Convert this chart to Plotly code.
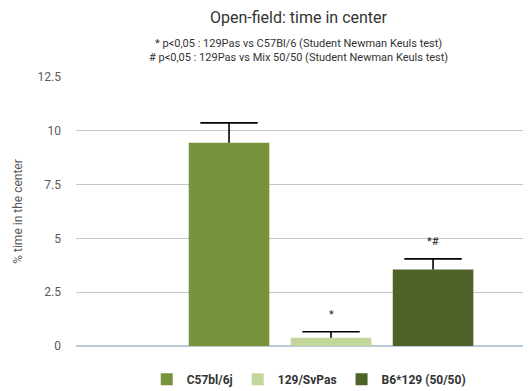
import plotly.graph_objects as go

categories = ["C57bl/6j", "129/SvPas", "B6*129 (50/50)"]
values = [9.45, 0.38, 3.55]
errors = [0.92, 0.28, 0.50]
signif = ["", "*", "*#"]
colors = ["#77933c", "#c3d69b", "#4f6228"]
y_ticks = [0, 2.5, 5, 7.5, 10, 12.5]

fig = go.Figure()
for c, v, e, col in zip(categories, values, errors, colors):
    fig.add_trace(go.Bar(
        x=[c], y=[v], name=c, marker=dict(color=col, line=dict(width=0)),
        width=0.79,
        error_y=dict(type="data", symmetric=False, array=[e], arrayminus=[0],
                     color="black", thickness=1.6, width=0),
    ))

# caps of the one-sided error bars
fig.add_trace(go.Scatter(
    x=categories, y=[v + e for v, e in zip(values, errors)], mode="markers",
    marker=dict(symbol="line-ew", size=41, line=dict(color="black", width=1.6)),
    showlegend=False, hoverinfo="skip",
))

for c, v, e, s in zip(categories, values, errors, signif):
    if s:
        fig.add_annotation(x=c, y=v + e, text=s, showarrow=False, yshift=17,
                           font=dict(family="Roboto", size=11, color="#222"))

fig.add_annotation(xref="paper", yref="paper", x=0.49, y=1, yshift=60,
                   yanchor="middle", xanchor="center",
                   text="Open-field: time in center", showarrow=False,
                   font=dict(family="Roboto", size=16, color="#333"))
fig.add_annotation(xref="paper", yref="paper", x=0.49, y=1, yshift=27,
                   yanchor="middle", xanchor="center",
                   text="* p<0,05 : 129Pas vs C57Bl/6 (Student Newman Keuls test)<br># p<0,05 : 129Pas vs Mix 50/50 (Student Newman Keuls test)",
                   showarrow=False,
                   font=dict(family="Roboto", size=11, color="#333"))

fig.update_layout(
    width=523, height=383,
    margin=dict(l=68, r=0, t=69, b=45),
    plot_bgcolor="white", paper_bgcolor="white",
    barmode="overlay",
    font=dict(family="Roboto", color="#595959"),
    xaxis=dict(type="category", categoryorder="array", categoryarray=categories,
               range=[-1.5, 2.96], showticklabels=False, showgrid=False,
               zeroline=False, showline=False),
    yaxis=dict(range=[0, 12.5], tickvals=y_ticks,
               ticktext=["0", "2.5", "5", "7.5", "10", "12.5"],
               gridcolor="#c6c6c6", gridwidth=1, zeroline=True,
               zerolinecolor="#b9cadb", zerolinewidth=1.5,
               ticks="", ticklabelstandoff=14,
               tickfont=dict(family="Roboto", size=12, color="#595959"),
               title=dict(text="% time in the center", standoff=12,
                          font=dict(family="Roboto", size=12, color="#595959"))),
    legend=dict(orientation="h", xref="container", x=0.575, xanchor="center",
                yref="container", y=0.031, yanchor="middle",
                font=dict(family="Roboto", size=12, color="#333", weight="bold"),
                itemwidth=30, traceorder="normal"),
    showlegend=True,
)

fig.write_html("out.html")
